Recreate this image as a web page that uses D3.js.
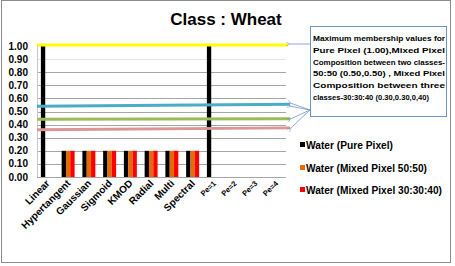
<!DOCTYPE html>
<html>
<head>
<meta charset="utf-8">
<script src="https://cdn.jsdelivr.net/npm/d3@7"></script>
<style>
  body { margin: 0; background: #fff; }
  text { font-family: Arial, "Liberation Sans", sans-serif; }
</style>
</head>
<body>
<svg id="chart" width="455" height="266"></svg>
<script>
// chart data
const categories = ['Linear', 'Hypertangent', 'Gaussian', 'Sigmoid', 'KMOD', 'Radial', 'Multi', 'Spectral', 'Pe=1', 'Pe=2', 'Pe=3', 'Pe=4'];
const seriesNames = ['Water (Pure Pixel)', 'Water (Mixed Pixel 50:50)', 'Water (Mixed Pixel 30:30:40)'];
const purePixel = [1.00, 0.20, 0.20, 0.20, 0.20, 0.20, 0.20, 0.20, 1.00, 0, 0, 0];
const mixed5050 = [0, 0.20, 0.20, 0.20, 0.20, 0.20, 0.20, 0.20, 0, 0, 0, 0];
const mixed303040 = [0, 0.20, 0.20, 0.20, 0.20, 0.20, 0.20, 0.20, 0, 0, 0, 0];
const yTicks = [0, 0.1, 0.2, 0.3, 0.4, 0.5, 0.6, 0.7, 0.8, 0.9, 1.0];

// reference lines (start / end value)
const refStart = [1.00, 0.54, 0.44, 0.36];
const refEnd = [1.00, 0.555, 0.445, 0.375];

const noteLines = [
    'Maximum membership values for',
    'Pure Pixel (1.00),Mixed Pixel',
    'Composition between two classes-',
    '50:50 (0.50,0.50) , Mixed Pixel',
    'Composition between three',
    'classes-30:30:40 (0.30,0.30,0,40)'
];

const seriesColors = ['#000000', '#e36c09', '#ff0000'];
const refColors = ['#ffff00', '#4bacc6', '#9bbb59', '#d99694'];

const svg = d3.select('#chart');
const margin = {left: 37, right: 286, top: 46, bottom: 177};

// outer frame
svg.append('rect')
    .attr('x', 1.5).attr('y', 0.5)
    .attr('width', 449).attr('height', 262)
    .attr('fill', 'none')
    .attr('stroke', '#8c8c8c');

let x = d3.scaleBand()
    .domain(categories)
    .range([margin.left, margin.right]);

let xSeries = d3.scaleBand()
    .domain(seriesNames)
    .range([0, x.bandwidth()])
    .paddingOuter(0.9);

let y = d3.scaleLinear()
    .domain([0, 1])
    .range([margin.bottom, margin.top]);

// gridlines
svg.append('g')
    .selectAll('line')
    .data(yTicks.slice(0, -1))
    .enter().append('line')
    .attr('x1', margin.left)
    .attr('x2', margin.right)
    .attr('y1', function(d) { return Math.round(y(d)) + 0.5; })
    .attr('y2', function(d) { return Math.round(y(d)) + 0.5; })
    .attr('stroke', function(d) { return d > 0.85 ? '#e4e4e4' : '#a6a6a6'; })
    .attr('stroke-width', 1);

// y axis line
svg.append('line')
    .attr('x1', margin.left + 0.5).attr('x2', margin.left + 0.5)
    .attr('y1', y(1)).attr('y2', y(0))
    .attr('stroke', '#c8c8c8');

// y tick labels
svg.append('g')
    .selectAll('text')
    .data(yTicks)
    .enter().append('text')
    .attr('x', 28)
    .attr('y', function(d) { return y(d) + 3.5; })
    .attr('text-anchor', 'end')
    .style('font-weight', 'bold')
    .style('font-size', '10px')
    .text(function(d) { return d.toFixed(2); });

// bars
const seriesValues = [purePixel, mixed5050, mixed303040];
seriesValues.forEach(function(values, s) {
    svg.append('g')
        .selectAll('rect')
        .data(values)
        .enter().append('rect')
        .attr('x', function(d, i) { return x(categories[i]) + xSeries(seriesNames[s]); })
        .attr('y', function(d) { return y(d); })
        .attr('width', xSeries.bandwidth())
        .attr('height', function(d) { return y(0) - y(d); })
        .attr('fill', seriesColors[s]);
});

// reference lines
svg.append('g')
    .selectAll('line')
    .data(refStart)
    .enter().append('line')
    .attr('x1', margin.left)
    .attr('x2', function(d, i) { return i === 0 ? 288 : 290; })
    .attr('y1', function(d, i) { return y(d) - (i === 0 ? 1 : 0); })
    .attr('y2', function(d, i) { return y(refEnd[i]) - (i === 0 ? 1 : 0); })
    .attr('stroke', function(d, i) { return refColors[i]; })
    .attr('stroke-width', 3);

// x labels, rotated 45 degrees
svg.append('g')
    .selectAll('text')
    .data(categories)
    .enter().append('text')
    .attr('transform', function(d) {
        return 'translate(' + (x(d) + x.bandwidth() / 2 + 3) + ',184) rotate(-45)';
    })
    .attr('text-anchor', 'end')
    .style('font-weight', 'bold')
    .style('font-size', function(d) { return d.indexOf('Pe') === 0 ? '7.5px' : '10px'; })
    .text(function(d) { return d; });

// title
svg.append('text')
    .attr('x', 226)
    .attr('y', 25)
    .attr('text-anchor', 'middle')
    .style('font-weight', 'bold')
    .style('font-size', '17px')
    .text('Class : Wheat');

// note box
svg.append('rect')
    .attr('x', 310.5).attr('y', 26.5)
    .attr('width', 136).attr('height', 90)
    .attr('fill', '#fff')
    .attr('stroke', '#6f94c8')
    .attr('stroke-width', 1);

svg.append('g')
    .selectAll('text')
    .data(noteLines)
    .enter().append('text')
    .attr('x', 313)
    .attr('y', function(d, i) { return 41 + i * 11.8; })
    .attr('textLength', function(d, i) { return i === noteLines.length - 1 ? 116 : 132; })
    .attr('lengthAdjust', 'spacingAndGlyphs')
    .style('font-weight', 'bold')
    .style('font-size', '7.5px')
    .text(function(d) { return d; });

// arrows from box to lines
svg.append('defs').append('marker')
    .attr('id', 'head')
    .attr('viewBox', '0 0 10 10')
    .attr('refX', 1).attr('refY', 5)
    .attr('markerWidth', 6).attr('markerHeight', 6)
    .attr('orient', 'auto-start-reverse')
    .append('path')
    .attr('d', 'M9,1 L1,5 L9,9')
    .attr('fill', 'none')
    .attr('stroke', '#6f94c8')
    .attr('stroke-width', 1.2);

const arrowFrom = [[310, 44], [310, 110], [310, 110], [310, 110], [310, 110]];
const arrowTo = [[290, 44], [291, y(refEnd[1]) - 1], [291, y(refEnd[1]) + 2], [291, y(refEnd[2])], [291, y(refEnd[3])]];
svg.append('g')
    .selectAll('line')
    .data(arrowFrom)
    .enter().append('line')
    .attr('x1', function(d) { return d[0]; })
    .attr('y1', function(d) { return d[1]; })
    .attr('x2', function(d, i) { return arrowTo[i][0]; })
    .attr('y2', function(d, i) { return arrowTo[i][1]; })
    .attr('stroke', '#6f94c8')
    .attr('stroke-width', 0.8)
    .attr('marker-end', 'url(#head)');

// legend
const legendY = [145, 168, 190];
const legendLen = [87, 121, 136];
const legend = svg.append('g')
    .selectAll('g')
    .data(seriesNames)
    .enter().append('g');

legend.append('rect')
    .attr('x', 300)
    .attr('y', function(d, i) { return legendY[i] - 3; })
    .attr('width', 5).attr('height', 5)
    .attr('fill', function(d, i) { return seriesColors[i]; });

legend.append('text')
    .attr('x', 306)
    .attr('y', function(d, i) { return legendY[i] + 3.5; })
    .attr('textLength', function(d, i) { return legendLen[i]; })
    .attr('lengthAdjust', 'spacingAndGlyphs')
    .style('font-weight', 'bold')
    .style('font-size', '10.5px')
    .text(function(d) { return d; });
</script>
</body>
</html>
